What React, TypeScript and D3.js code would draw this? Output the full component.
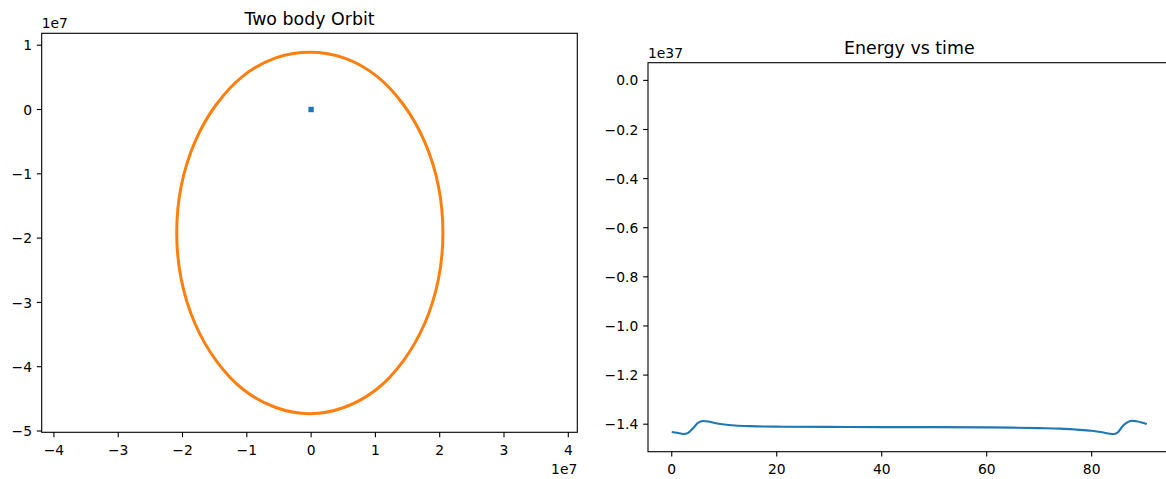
import React from "react";
import * as d3 from "d3";

// ---- Data (orbit in units of 1e7, energy in units of 1e37) ----
const orbitX = [2.05, 1.98, 1.77, 1.44, 1.02, 0.52, -0.02, -0.56, -1.06, -1.48, -1.81, -2.02, -2.09, -2.02, -1.81, -1.48, -1.06, -0.56, -0.02, 0.52, 1.02, 1.44, 1.77, 1.98];
const orbitY = [-1.92, -1.19, -0.51, 0.07, 0.52, 0.8, 0.89, 0.8, 0.52, 0.07, -0.51, -1.19, -1.92, -2.64, -3.32, -3.9, -4.35, -4.63, -4.73, -4.63, -4.35, -3.9, -3.32, -2.64];
const centralX = [0];
const centralY = [0];

const timeVals = [0, 1, 2.2, 3, 4, 5, 5.9, 7, 8, 10, 12, 15, 20, 30, 40, 50, 60, 65, 70, 74, 77, 80, 82, 83.5, 84.3, 85, 86, 87, 87.7, 88.5, 90.5];
const energyVals = [-1.432, -1.435, -1.44, -1.437, -1.418, -1.395, -1.387, -1.389, -1.394, -1.401, -1.405, -1.408, -1.41, -1.411, -1.412, -1.412, -1.413, -1.414, -1.416, -1.418, -1.422, -1.427, -1.433, -1.439, -1.44, -1.433, -1.405, -1.39, -1.386, -1.388, -1.399];

const orbitXTicks = [-4, -3, -2, -1, 0, 1, 2, 3, 4];
const orbitYTicks = [1, 0, -1, -2, -3, -4, -5];
const energyXTicks = [0, 20, 40, 60, 80];
const energyYTicks = [0, -0.2, -0.4, -0.6, -0.8, -1.0, -1.2, -1.4];

const FONT = "DejaVu Sans, sans-serif";
const TICK_FS = 13.89;
const TITLE_FS = 17.4;
const TICK_LEN = 4.86;
const PAD = 4.86;

const fmtInt = (v: number) => (v < 0 ? "\u2212" + Math.abs(v) : String(v));
const fmt1 = (v: number) => {
  const s = Math.abs(v).toFixed(1);
  return v < -1e-9 ? "\u2212" + s : s;
};

function Axes(props: {
  x: d3.ScaleLinear<number, number>;
  y: d3.ScaleLinear<number, number>;
  xTicks: number[];
  yTicks: number[];
  xFmt: (v: number) => string;
  yFmt: (v: number) => string;
  title: string;
  xOffset?: string;
  yOffset?: string;
  children?: React.ReactNode;
}) {
  const { x, y, xTicks, yTicks, xFmt, yFmt, title, xOffset, yOffset } = props;
  const [x0, x1] = x.range();
  const [y0, y1] = y.range(); // y0 bottom, y1 top
  const cx = (x0 + x1) / 2;
  return (
    <g>
      {props.children}
      <rect x={x0} y={y1} width={x1 - x0} height={y0 - y1} fill="none" stroke="#000" strokeWidth={1.1} />
      {xTicks.map((t) => (
        <g key={"x" + t}>
          <line x1={x(t)} x2={x(t)} y1={y0} y2={y0 + TICK_LEN} stroke="#000" strokeWidth={1.1} />
          <text x={x(t)} y={y0 + TICK_LEN + PAD + 12.9} textAnchor="middle" fontSize={TICK_FS} fontFamily={FONT} fill="#000">
            {xFmt(t)}
          </text>
        </g>
      ))}
      {yTicks.map((t) => (
        <g key={"y" + t}>
          <line x1={x0 - TICK_LEN} x2={x0} y1={y(t)} y2={y(t)} stroke="#000" strokeWidth={1.1} />
          <text x={x0 - TICK_LEN - PAD} y={y(t) + 5.1} textAnchor="end" fontSize={TICK_FS} fontFamily={FONT} fill="#000">
            {yFmt(t)}
          </text>
        </g>
      ))}
      <text x={cx} y={y1 - 8.33} textAnchor="middle" fontSize={TITLE_FS} fontFamily={FONT} fill="#000">
        {title}
      </text>
      {yOffset && (
        <text x={x0} y={y1 - 5} textAnchor="start" fontSize={TICK_FS} fontFamily={FONT} fill="#000">
          {yOffset}
        </text>
      )}
      {xOffset && (
        <text x={x1} y={y0 + 42} textAnchor="end" fontSize={TICK_FS} fontFamily={FONT} fill="#000">
          {xOffset}
        </text>
      )}
    </g>
  );
}

export default function App() {
  // Left: orbit
  const ox = d3.scaleLinear().domain([-4.19, 4.14]).range([41.7, 577.3]);
  const oy = d3.scaleLinear().domain([-5.02, 1.185]).range([432.3, 33.3]);
  const orbitPts: [number, number][] = orbitX.map((v, i) => [ox(v), oy(orbitY[i])]);
  const orbitPath = d3.line().curve(d3.curveCatmullRomClosed.alpha(0.5))(orbitPts) || "";

  // Right: energy
  const ex = d3.scaleLinear().domain([-4.525, 95.03]).range([648, 1170.6]);
  const ey = d3.scaleLinear().domain([-1.512, 0.072]).range([451.7, 62.7]);
  const energyPath =
    d3
      .line<number>()
      .x((_, i) => ex(timeVals[i]))
      .y((d) => ey(d))
      .curve(d3.curveMonotoneX)(energyVals) || "";

  return (
    <svg
      width={1166}
      height={479}
      style={{ position: "absolute", left: 0, top: 0, background: "#fff" }}
      xmlns="http://www.w3.org/2000/svg"
    >
      <rect x={0} y={0} width={1166} height={479} fill="#fff" />
      <Axes x={ox} y={oy} xTicks={orbitXTicks} yTicks={orbitYTicks} xFmt={fmtInt} yFmt={fmtInt} title="Two body Orbit" xOffset="1e7" yOffset="1e7">
        <path d={orbitPath} fill="none" stroke="#ff7f0e" strokeWidth={3} />
        {centralX.map((v, i) => (
          <rect key={i} x={ox(v) - 2.7} y={oy(centralY[i]) - 2.7} width={5.4} height={5.4} fill="#1f77b4" />
        ))}
      </Axes>
      <Axes x={ex} y={ey} xTicks={energyXTicks} yTicks={energyYTicks} xFmt={fmtInt} yFmt={fmt1} title="Energy vs time" yOffset="1e37">
        <path d={energyPath} fill="none" stroke="#1f77b4" strokeWidth={2.1} />
      </Axes>
    </svg>
  );
}
